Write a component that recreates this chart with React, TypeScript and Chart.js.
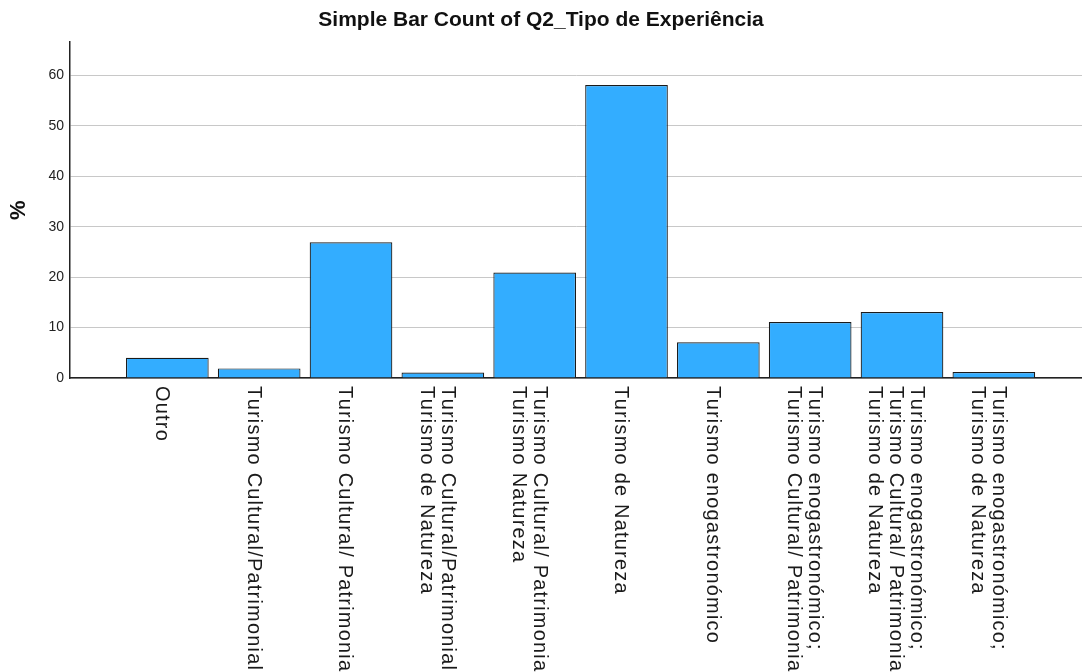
import React, { useEffect, useRef } from "react";
import { Chart, registerables } from "chart.js";

Chart.register(...registerables);

const TITLE = "Simple Bar Count of Q2_Tipo de Experiência";
const Y_TITLE = "%";

// Category labels (each inner array = lines of the wrapped label)
const CATEGORIES: string[][] = [
  ["Outro"],
  ["Turismo Cultural/Patrimonial"],
  ["Turismo Cultural/ Patrimonial"],
  ["Turismo Cultural/Patrimonial;", "Turismo de Natureza"],
  ["Turismo Cultural/ Patrimonial;", "Turismo Natureza"],
  ["Turismo de Natureza"],
  ["Turismo enogastronómico"],
  ["Turismo enogastronómico;", "Turismo Cultural/ Patrimonial"],
  ["Turismo enogastronómico;", "Turismo Cultural/ Patrimonial;", "Turismo de Natureza"],
  ["Turismo enogastronómico;", "Turismo de Natureza"],
];

const VALUES: number[] = [4.0, 1.9, 26.9, 1.1, 20.9, 58.1, 7.1, 11.1, 13.1, 1.2];

const Y_TICKS: number[] = [0, 10, 20, 30, 40, 50, 60];

const FONT = '"Liberation Sans", Arial, sans-serif';

const xLabelPlugin = {
  id: "rotatedXLabels",
  afterDraw(chart: any) {
    const { ctx, chartArea, scales } = chart;
    const x = scales.x;
    ctx.save();
    ctx.font = `20px ${FONT}`;
    try {
      (ctx as any).letterSpacing = "1.2px";
    } catch (e) {}
    ctx.fillStyle = "#1a1a1a";
    ctx.textAlign = "left";
    ctx.textBaseline = "middle";
    const lh = 21;
    CATEGORIES.forEach((lines, i) => {
      const cx = x.getPixelForValue(i);
      ctx.save();
      ctx.translate(cx - 6, chartArea.bottom + 8);
      ctx.rotate(Math.PI / 2);
      lines.forEach((line, k) => {
        const ry = (k - (lines.length - 1) / 2) * lh;
        ctx.fillText(line, 0, ry);
      });
      ctx.restore();
    });
    ctx.restore();
  },
};

export default function App() {
  const ref = useRef<HTMLCanvasElement | null>(null);

  useEffect(() => {
    if (!ref.current) return;
    const chart = new Chart(ref.current, {
      type: "bar",
      data: {
        datasets: [
          {
            data: VALUES.map((v, i) => ({ x: i, y: v })),
            backgroundColor: "#33adff",
            borderColor: "#1a1a1a",
            borderWidth: 1.2,
            barPercentage: 0.9,
            categoryPercentage: 1,
          },
        ],
      },
      options: {
        responsive: false,
        animation: false,
        devicePixelRatio: 1,
        layout: { padding: 0 },
        plugins: {
          legend: { display: false },
          tooltip: { enabled: false },
          title: {
            display: true,
            text: TITLE,
            color: "#111",
            font: { size: 21, weight: "bold", family: FONT },
            padding: { top: 8, bottom: 9 },
          },
        },
        scales: {
          x: {
            type: "linear",
            offset: false,
            min: -1.06,
            max: 9.96,
            grid: { display: false, offset: false },
            border: { display: true, color: "#222", width: 1.5 },
            ticks: { display: false },
            afterFit: (s: any) => {
              s.height = 294;
            },
          },
          y: {
            min: 0,
            max: 66.6,
            afterBuildTicks: (s: any) => {
              s.ticks = Y_TICKS.map((v) => ({ value: v }));
            },
            ticks: { padding: 6, color: "#222", font: { size: 14, family: FONT } },
            grid: { color: "#c8c8c8", lineWidth: 1, drawTicks: false },
            border: { color: "#222", width: 1.5 },
            title: {
              display: true,
              text: Y_TITLE,
              color: "#111",
              font: { size: 22, weight: "bold", family: FONT },
              padding: { top: 6, bottom: 0 },
            },
            afterFit: (s: any) => {
              s.width = 70;
            },
          },
        },
      } as any,
      plugins: [xLabelPlugin],
    });
    return () => chart.destroy();
  }, []);

  return (
    <div style={{ position: "absolute", left: 0, top: 0, width: 1082, height: 672, background: "#fff" }}>
      <canvas ref={ref} width={1082} height={672} style={{ display: "block" }} />
    </div>
  );
}
